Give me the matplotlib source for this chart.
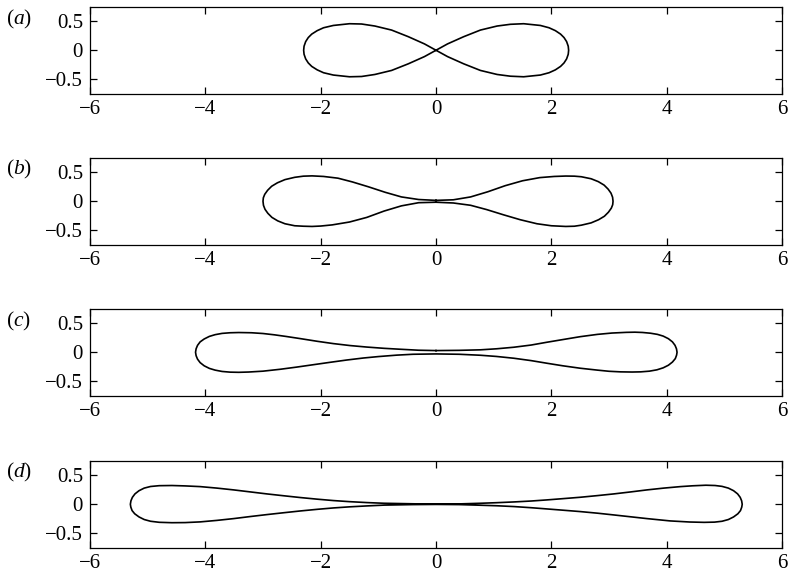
import matplotlib
matplotlib.use("Agg")
import matplotlib.pyplot as plt

plt.rcParams['font.family'] = ['Liberation Serif', 'DejaVu Serif']
plt.rcParams['mathtext.fontset'] = 'custom'
plt.rcParams['mathtext.rm'] = 'Liberation Serif'
plt.rcParams['mathtext.it'] = 'Liberation Serif:italic'

# ---------------- data ----------------
panel_labels = ['$(a)$', '$(b)$', '$(c)$', '$(d)$']
x_ticks = [-6, -4, -2, 0, 2, 4, 6]
y_ticks = [-0.5, 0, 0.5]
y_ticklabels = ['\u22120.5', '0', '0.5']

# (a) figure-eight: right upper, right lower, left upper, left lower
a_x = [0.0, 0.2, 0.48, 0.77, 1.06, 1.29, 1.52, 1.81, 1.96, 2.07, 2.16, 2.22, 2.265, 2.293, 2.30,
       2.293, 2.265, 2.22, 2.16, 2.07, 1.96, 1.81, 1.52, 1.29, 1.06, 0.77, 0.48, 0.2, 0.0,
       -0.2, -0.48, -0.77, -1.06, -1.29, -1.5, -1.78, -1.95, -2.06, -2.155, -2.215, -2.26, -2.288, -2.295,
       -2.288, -2.26, -2.215, -2.155, -2.06, -1.95, -1.78, -1.5, -1.29, -1.06, -0.77, -0.48, -0.2, 0.0]
a_y = [0.0, 0.11, 0.235, 0.35, 0.42, 0.45, 0.46, 0.43, 0.39, 0.34, 0.28, 0.22, 0.15, 0.07, 0.0,
       -0.07, -0.15, -0.22, -0.28, -0.34, -0.39, -0.43, -0.46, -0.45, -0.42, -0.35, -0.235, -0.11, 0.0,
       0.11, 0.235, 0.35, 0.42, 0.455, 0.46, 0.43, 0.39, 0.34, 0.28, 0.22, 0.15, 0.07, 0.0,
       -0.07, -0.15, -0.22, -0.28, -0.34, -0.39, -0.43, -0.46, -0.455, -0.42, -0.35, -0.235, -0.11, 0.0]

# (b)
b_x = [0.0, 0.3, 0.6, 0.9, 1.2, 1.5, 1.8, 2.05, 2.25, 2.4, 2.52, 2.69, 2.815, 2.915, 2.985, 3.035, 3.062, 3.07,
       3.064, 3.04, 2.99, 2.92, 2.82, 2.69, 2.52, 2.4, 2.25, 2.0, 1.75, 1.46, 1.17, 0.88, 0.6, 0.3, 0.0,
       -0.3, -0.6, -0.9, -1.2, -1.5, -1.8, -2.0, -2.15, -2.3, -2.45, -2.62, -2.745, -2.845, -2.915, -2.965, -2.992, -3.0,
       -2.994, -2.97, -2.92, -2.85, -2.75, -2.62, -2.45, -2.3, -2.15, -1.95, -1.7, -1.45, -1.17, -0.88, -0.6, -0.3, 0.0]
b_y = [0.015, 0.025, 0.075, 0.165, 0.27, 0.355, 0.41, 0.43, 0.437, 0.435, 0.425, 0.39, 0.34, 0.28, 0.21, 0.14, 0.07, 0.0,
       -0.06, -0.12, -0.19, -0.26, -0.32, -0.375, -0.415, -0.433, -0.437, -0.425, -0.39, -0.32, -0.235, -0.145, -0.07, -0.03, -0.017,
       -0.025, -0.08, -0.17, -0.28, -0.36, -0.41, -0.43, -0.437, -0.433, -0.425, -0.39, -0.34, -0.28, -0.21, -0.14, -0.07, 0.0,
       0.06, 0.12, 0.19, 0.26, 0.32, 0.375, 0.415, 0.435, 0.44, 0.43, 0.4, 0.335, 0.25, 0.155, 0.075, 0.03, 0.015]

# (c)
c_x = [0.0, 0.4, 0.77, 1.05, 1.35, 1.65, 1.92, 2.2, 2.5, 2.8, 3.05, 3.3, 3.45, 3.58, 3.72, 3.84, 3.94, 4.03, 4.10, 4.145, 4.17, 4.18,
       4.172, 4.15, 4.10, 4.03, 3.94, 3.83, 3.7, 3.55, 3.4, 3.2, 3.0, 2.8, 2.5, 2.2, 1.92, 1.65, 1.35, 1.05, 0.77, 0.4, 0.0,
       -0.4, -0.68, -1.0, -1.26, -1.55, -1.84, -2.12, -2.42, -2.7, -3.0, -3.25, -3.42, -3.57, -3.71, -3.83, -3.93, -4.02, -4.09, -4.135, -4.16, -4.17,
       -4.16, -4.135, -4.09, -4.02, -3.93, -3.83, -3.71, -3.57, -3.42, -3.2, -3.0, -2.8, -2.6, -2.35, -2.06, -1.78, -1.49, -1.2, -0.9, -0.62, -0.3, 0.0]
c_y = [0.029, 0.033, 0.042, 0.06, 0.087, 0.125, 0.173, 0.22, 0.27, 0.31, 0.333, 0.345, 0.348, 0.343, 0.33, 0.31, 0.28, 0.235, 0.18, 0.12, 0.06, 0.0,
       -0.05, -0.11, -0.17, -0.225, -0.27, -0.305, -0.328, -0.34, -0.343, -0.34, -0.33, -0.31, -0.277, -0.235, -0.19, -0.145, -0.104, -0.073, -0.052, -0.035, -0.029,
       -0.035, -0.05, -0.075, -0.1, -0.135, -0.175, -0.215, -0.258, -0.295, -0.328, -0.343, -0.348, -0.345, -0.333, -0.31, -0.28, -0.235, -0.18, -0.12, -0.06, 0.0,
       0.06, 0.12, 0.18, 0.23, 0.275, 0.305, 0.327, 0.338, 0.342, 0.338, 0.325, 0.302, 0.274, 0.236, 0.19, 0.15, 0.116, 0.09, 0.068, 0.052, 0.035, 0.029]

# (d)
d_x = [0.0, 0.4, 0.77, 1.05, 1.35, 1.65, 1.92, 2.2, 2.5, 2.8, 3.08, 3.37, 3.66, 3.95, 4.24, 4.45, 4.68, 4.84, 4.96, 5.07, 5.16, 5.23, 5.275, 5.30, 5.31,
       5.302, 5.28, 5.235, 5.16, 5.07, 4.96, 4.83, 4.65, 4.4, 4.06, 3.66, 3.37, 3.08, 2.8, 2.5, 2.2, 1.92, 1.65, 1.35, 1.05, 0.77, 0.4, 0.0,
       -0.4, -0.9, -1.2, -1.5, -1.78, -2.06, -2.35, -2.64, -2.93, -3.22, -3.51, -3.8, -4.09, -4.35, -4.58, -4.8, -4.95, -5.06, -5.15, -5.225, -5.27, -5.292, -5.30,
       -5.29, -5.265, -5.22, -5.15, -5.06, -4.95, -4.8, -4.58, -4.35, -4.09, -3.8, -3.51, -3.22, -2.93, -2.64, -2.35, -2.06, -1.78, -1.5, -1.2, -0.9, -0.62, -0.3, 0.0]
d_y = [0.003, 0.006, 0.017, 0.027, 0.04, 0.056, 0.075, 0.097, 0.121, 0.15, 0.179, 0.213, 0.249, 0.28, 0.306, 0.32, 0.33, 0.325, 0.31, 0.28, 0.235, 0.18, 0.12, 0.06, 0.0,
       -0.05, -0.11, -0.165, -0.22, -0.265, -0.295, -0.31, -0.314, -0.308, -0.289, -0.249, -0.217, -0.185, -0.155, -0.127, -0.103, -0.081, -0.06, -0.04, -0.026, -0.017, -0.006, -0.003,
       -0.006, -0.015, -0.029, -0.045, -0.064, -0.088, -0.116, -0.147, -0.179, -0.213, -0.249, -0.28, -0.306, -0.318, -0.32, -0.313, -0.295, -0.265, -0.22, -0.165, -0.11, -0.05, 0.0,
       0.06, 0.12, 0.18, 0.235, 0.28, 0.308, 0.322, 0.325, 0.318, 0.306, 0.28, 0.249, 0.214, 0.179, 0.147, 0.116, 0.088, 0.064, 0.045, 0.029, 0.017, 0.012, 0.006, 0.003]

curves = [(a_x, a_y), (b_x, b_y), (c_x, c_y), (d_x, d_y)]

# ---------------- layout ----------------
W, H = 788, 576
fig = plt.figure(figsize=(W / 100, H / 100), dpi=100)

ax_left, ax_right = 90, 782
ax_tops = [7, 158, 309, 461]
ax_h = 86.5
label_centers = [19, 169, 321, 472.5]

for (cx, cy), top, lab, lc in zip(curves, ax_tops, panel_labels, label_centers):
    ax = fig.add_axes([ax_left / W, 1 - (top + ax_h) / H, (ax_right - ax_left) / W, ax_h / H])
    ax.plot(cx, cy, color='black', lw=1.2, solid_joinstyle='round')
    ax.set_xlim(-6, 6)
    ax.set_ylim(-0.75, 0.75)
    ax.set_xticks(x_ticks)
    ax.set_yticks(y_ticks)
    ax.set_yticklabels(y_ticklabels)
    ax.tick_params(direction='in', top=True, right=True, length=5, width=0.9,
                   labelsize=15, pad=5, colors='black')
    for s in ax.spines.values():
        s.set_linewidth(0.9)
    fig.text(6 / W, 1 - lc / H, lab, ha='left', va='center', fontsize=15.5)

fig.savefig('out.png', dpi=100)
